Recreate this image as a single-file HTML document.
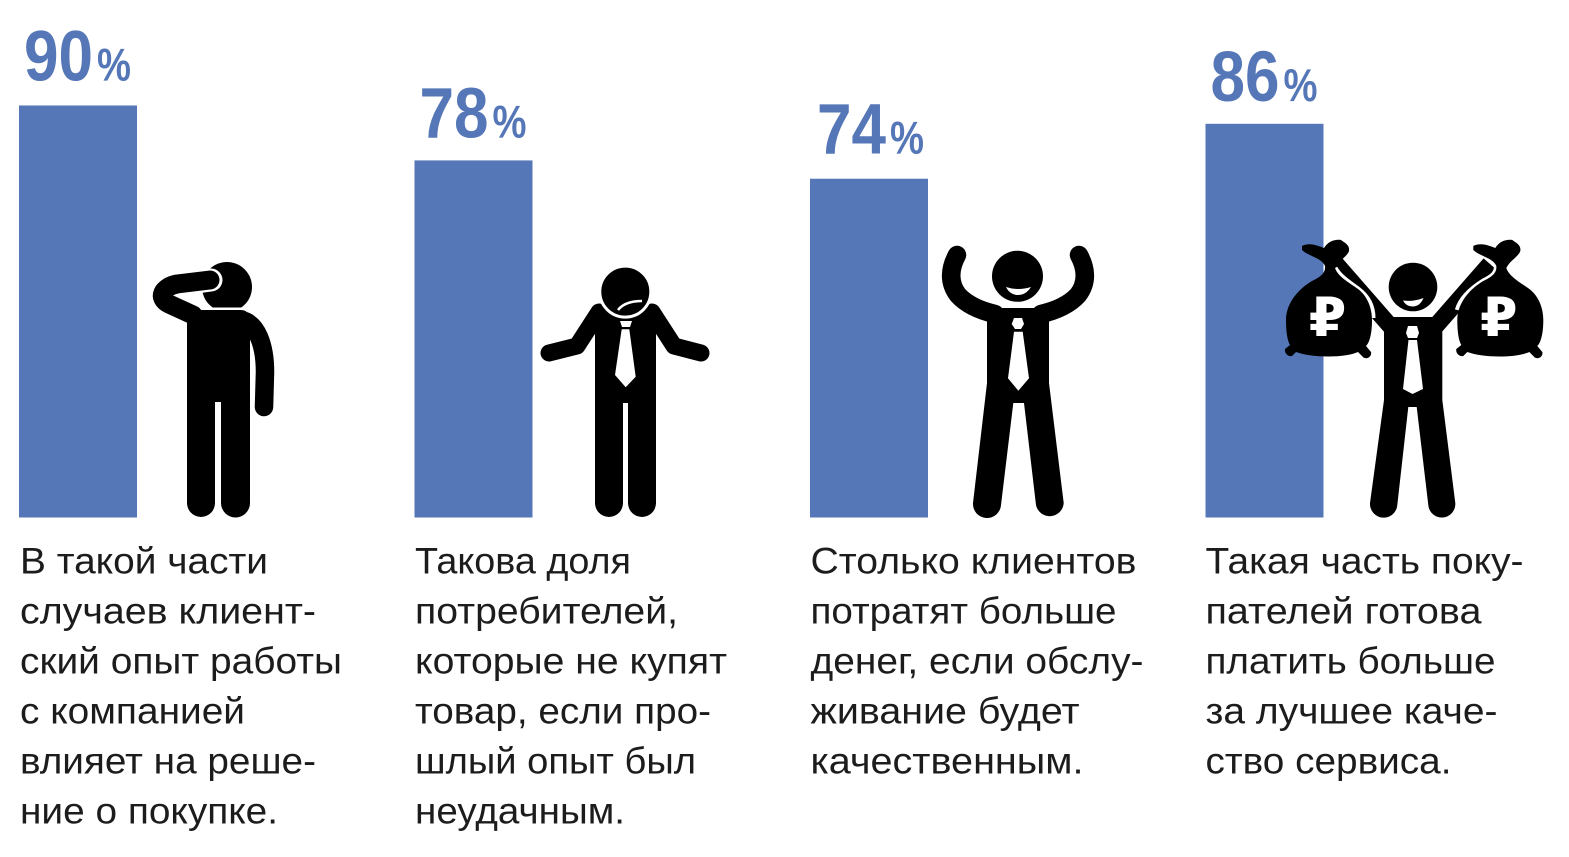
<!DOCTYPE html>
<html lang="ru">
<head>
<meta charset="utf-8">
<title>Клиентский опыт</title>
<style>
html,body{margin:0;padding:0;background:#fff;}
svg{display:block;}
.pct{font-family:"Liberation Sans",sans-serif;font-weight:700;fill:#5577b8;}
.cap{font-family:"Liberation Sans",sans-serif;font-size:37px;fill:#1c1c1c;}
.rub{font-family:"DejaVu Sans","Liberation Sans",sans-serif;font-weight:700;font-size:54px;fill:#fff;text-anchor:middle;}
</style>
</head>
<body>
<svg id="chart" width="1569" height="857" viewBox="0 0 1569 857" xmlns="http://www.w3.org/2000/svg">
<rect width="1569" height="857" fill="#fff"/>
<g id="bars"></g>
<g id="labels"></g>

<g transform="translate(-3,0)">
  <circle cx="230" cy="287" r="25" fill="#000"/>
  <path d="M190,310 H244 C250,310 253,314 253,322 V503 A14.5,14.5 0 0 1 224,503 V402 H218 V503 A14,14 0 0 1 190,503 Z" fill="#000"/>
  <rect x="200" y="307.5" width="48" height="2.5" fill="#fff"/>
  <path d="M244,320 C260,323 268,345 268,372 L267,407" fill="none" stroke="#000" stroke-width="18.5" stroke-linecap="round"/>
  <path d="M214,280 L185,284" fill="none" stroke="#fff" stroke-width="23" stroke-linecap="round"/>
  <path d="M213,280 L180,284 C165,287 160,298 172,304 L196,315" fill="none" stroke="#000" stroke-width="19" stroke-linecap="round" stroke-linejoin="round"/>
</g>

<g>
  <path d="M595,318 Q597,305 610,305 H641 Q654,305 656,318 V503 A14,14 0 0 1 628,503 V403 H623 V503 A14,14 0 0 1 595,503 Z" fill="#000"/>
  <path d="M599,312 L577,346 L549,353" fill="none" stroke="#000" stroke-width="17" stroke-linecap="round" stroke-linejoin="round"/>
  <path d="M652,312 L674,346 L701,353" fill="none" stroke="#000" stroke-width="17" stroke-linecap="round" stroke-linejoin="round"/>
  <circle cx="625.3" cy="291.6" r="25.5" fill="#000" stroke="#fff" stroke-width="3"/>
  <path d="M618,310 Q625,301 642,301" fill="none" stroke="#fff" stroke-width="2.5"/>
  <path d="M620,321 H632 L630,327 H622 Z" fill="#fff"/>
  <path d="M621.7,329.3 H629.3 L635.7,376.7 L625.7,387.3 L615,375 Z" fill="#fff"/>
</g>

<g>
  <circle cx="1017.5" cy="276.3" r="25.5" fill="#000"/>
  <path d="M1006,287 Q1018,291 1031,287 Q1026,295 1018,295 Q1010,295 1006,287 Z" fill="#fff"/>
  <path d="M987,308 H1049 V383 L1063.7,503 A14,14 0 0 1 1036,505 L1024,403 H1013.3 L1001,505 A14,14 0 0 1 973,503 L987,383 Z" fill="#000"/>
  <path d="M957,255 C950,268 948,282 958,295 C968,306 982,311 995,314" fill="none" stroke="#000" stroke-width="18.5" stroke-linecap="round"/>
  <path d="M1079,255 C1086,268 1088,282 1078,295 C1068,306 1054,311 1041,314" fill="none" stroke="#000" stroke-width="18.5" stroke-linecap="round"/>
  <path d="M1014,318 H1022 L1024,324 L1021,329 H1015 L1011.7,324 Z" fill="#fff"/>
  <path d="M1014,331.7 H1022.7 L1029,378.3 L1018.3,390.7 L1008,378.3 Z" fill="#fff"/>
</g>

<g>
  <circle cx="1413" cy="287" r="24.3" fill="#000"/>
  <path d="M1403,300.5 Q1413,302 1423.5,298 Q1420,306.5 1412.5,306.5 Q1406,306.5 1403,300.5 Z" fill="#fff"/>
  <path d="M1384,317 H1442.3 V400 L1455.3,503 A13.5,13.5 0 0 1 1428.3,505 L1416.7,407 H1408.3 L1397.3,505 A13.5,13.5 0 0 1 1370,503 L1384,400 Z" fill="#000"/>
  <path d="M1392,328 L1336,264" fill="none" stroke="#000" stroke-width="17"/>
  <path d="M1434,328 L1490,264" fill="none" stroke="#000" stroke-width="17"/>
  <path d="M1408,326 H1417 L1419,333 L1417,338 H1408 L1406,333 Z" fill="#fff"/>
  <path d="M1408.5,340 H1417 L1423,389 L1412.5,394 L1403,389 Z" fill="#fff"/>
  <g>
    <path d="M1335,268 C1340,277 1350,283 1358,289 C1366,295 1373,304 1373,318" fill="none" stroke="#fff" stroke-width="5"/>
    <path d="M1302,246 C1310,242 1318,246 1324,248 C1328,241 1336,239 1341,240 C1345,243 1350,245 1349,251 C1347,257 1339,260 1335,268 C1338,277 1350,283 1358,289 C1366,295 1372,306 1372,320 C1372,332 1370,342 1366,346 L1371,352 A5,5 0 0 1 1362,356 L1358,352 C1345,358 1312,358 1296,352 L1292,356 A6,6 0 0 1 1285,349 L1290,345 C1287,340 1286,330 1286,320 C1286,302 1300,288 1312,281 C1318,278 1326,274 1325,266 C1322,258 1308,256 1302,250 Z" fill="#000"/>
    <text class="rub" x="1327.5" y="336">₽</text>
  </g>
  <g transform="translate(171.3,0)">
    <path d="M1325,266 C1326,274 1318,278 1312,281 C1304,286 1290,296 1286,310" fill="none" stroke="#fff" stroke-width="5"/>
    <path d="M1302,246 C1310,242 1318,246 1324,248 C1328,241 1336,239 1341,240 C1345,243 1350,245 1349,251 C1347,257 1339,260 1335,268 C1338,277 1350,283 1358,289 C1366,295 1372,306 1372,320 C1372,332 1370,342 1366,346 L1371,352 A5,5 0 0 1 1362,356 L1358,352 C1345,358 1312,358 1296,352 L1292,356 A6,6 0 0 1 1285,349 L1290,345 C1287,340 1286,330 1286,320 C1286,302 1300,288 1312,281 C1318,278 1326,274 1325,266 C1322,258 1308,256 1302,250 Z" fill="#000"/>
    <text class="rub" x="1327.5" y="336">₽</text>
  </g>
</g>

<g class="cap">
  <text x="20" y="573.5" textLength="248" lengthAdjust="spacingAndGlyphs">В такой части</text>
  <text x="20" y="623.5" textLength="296" lengthAdjust="spacingAndGlyphs">случаев клиент-</text>
  <text x="20" y="673.5" textLength="322" lengthAdjust="spacingAndGlyphs">ский опыт работы</text>
  <text x="20" y="723.5" textLength="225" lengthAdjust="spacingAndGlyphs">с компанией</text>
  <text x="20" y="773.5" textLength="296" lengthAdjust="spacingAndGlyphs">влияет на реше-</text>
  <text x="20" y="823.5" textLength="258" lengthAdjust="spacingAndGlyphs">ние о покупке.</text>
</g>
<g class="cap">
  <text x="415" y="573.5" textLength="216" lengthAdjust="spacingAndGlyphs">Такова доля</text>
  <text x="415" y="623.5" textLength="263" lengthAdjust="spacingAndGlyphs">потребителей,</text>
  <text x="415" y="673.5" textLength="312" lengthAdjust="spacingAndGlyphs">которые не купят</text>
  <text x="415" y="723.5" textLength="296" lengthAdjust="spacingAndGlyphs">товар, если про-</text>
  <text x="415" y="773.5" textLength="281" lengthAdjust="spacingAndGlyphs">шлый опыт был</text>
  <text x="415" y="823.5" textLength="210" lengthAdjust="spacingAndGlyphs">неудачным.</text>
</g>
<g class="cap">
  <text x="810.5" y="573.5" textLength="326" lengthAdjust="spacingAndGlyphs">Столько клиентов</text>
  <text x="810.5" y="623.5" textLength="306" lengthAdjust="spacingAndGlyphs">потратят больше</text>
  <text x="810.5" y="673.5" textLength="333" lengthAdjust="spacingAndGlyphs">денег, если обслу-</text>
  <text x="810.5" y="723.5" textLength="269" lengthAdjust="spacingAndGlyphs">живание будет</text>
  <text x="810.5" y="773.5" textLength="273" lengthAdjust="spacingAndGlyphs">качественным.</text>
</g>
<g class="cap">
  <text x="1205.5" y="573.5" textLength="318" lengthAdjust="spacingAndGlyphs">Такая часть поку-</text>
  <text x="1205.5" y="623.5" textLength="276" lengthAdjust="spacingAndGlyphs">пателей готова</text>
  <text x="1205.5" y="673.5" textLength="290" lengthAdjust="spacingAndGlyphs">платить больше</text>
  <text x="1205.5" y="723.5" textLength="292" lengthAdjust="spacingAndGlyphs">за лучшее каче-</text>
  <text x="1205.5" y="773.5" textLength="246" lengthAdjust="spacingAndGlyphs">ство сервиса.</text>
</g>
</svg>

<script>
const categories = ['client-experience', 'bad-experience', 'spend-more', 'pay-more'];
const percentValues = [90, 78, 74, 86];

const NS = 'http://www.w3.org/2000/svg';
const BASELINE_Y = 517.5;
const PX_PER_PERCENT = 4.578;
const BAR_WIDTH = 118;

function xScale(index) {
  return 19 + index * 395.5;
}
function yScale(value) {
  return BASELINE_Y - value * PX_PER_PERCENT;
}
function labelDx(index) {
  return index === 2 ? 7 : 5;
}
function labelGap(index) {
  return index % 2 === 0 ? 25 : 23;
}

const barsGroup = document.getElementById('bars');
const labelsGroup = document.getElementById('labels');

percentValues.forEach(function (value, i) {
  const top = yScale(value);

  const bar = document.createElementNS(NS, 'rect');
  
  
  bar.setAttribute('x', xScale(i));
  bar.setAttribute('y', top);
  bar.setAttribute('width', BAR_WIDTH);
  bar.setAttribute('height', BASELINE_Y - top);
  bar.setAttribute('fill', '#5577b8');
  barsGroup.appendChild(bar);

  const digits = document.createElementNS(NS, 'text');
  
  
  digits.setAttribute('class', 'pct');
  digits.setAttribute('x', xScale(i) + labelDx(i));
  digits.setAttribute('y', top - labelGap(i));
  digits.setAttribute('font-size', '71');
  digits.setAttribute('textLength', '69');
  digits.setAttribute('lengthAdjust', 'spacingAndGlyphs');
  digits.textContent = String(value);
  labelsGroup.appendChild(digits);

  const sign = document.createElementNS(NS, 'text');
  
  
  sign.setAttribute('class', 'pct');
  sign.setAttribute('x', xScale(i) + labelDx(i) + 73);
  sign.setAttribute('y', top - labelGap(i));
  sign.setAttribute('font-size', '46');
  sign.setAttribute('textLength', '34');
  sign.setAttribute('lengthAdjust', 'spacingAndGlyphs');
  sign.textContent = '%';
  labelsGroup.appendChild(sign);
});
</script>
</body>
</html>
